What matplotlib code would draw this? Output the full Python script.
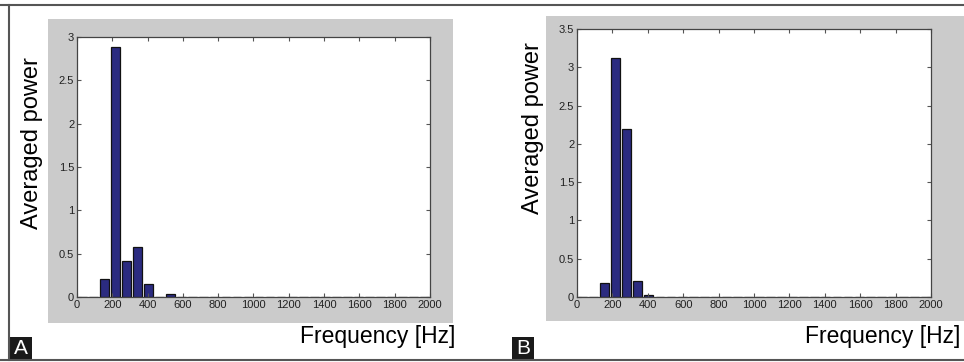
import matplotlib.pyplot as plt
from matplotlib.patches import Rectangle
from matplotlib.lines import Line2D

plt.rcParams['font.family'] = ['Liberation Sans', 'DejaVu Sans']

# frequency bin centres (Hz)
freq_hz = [31.25, 93.75, 156.25, 218.75, 281.25, 343.75, 406.25, 468.75,
           531.25, 593.75, 656.25, 718.75, 781.25, 843.75, 906.25, 968.75,
           1031.25, 1093.75, 1156.25, 1218.75, 1281.25, 1343.75, 1406.25, 1468.75,
           1531.25, 1593.75, 1656.25, 1718.75, 1781.25, 1843.75, 1906.25, 1968.75]

power_a = [0, 0, 0.21, 2.88, 0.42, 0.58, 0.15, 0, 0.03] + [0] * 23
power_b = [0, 0, 0.18, 3.12, 2.19, 0.21, 0.02] + [0] * 25

xticks = [0, 200, 400, 600, 800, 1000, 1200, 1400, 1600, 1800, 2000]
yticks_a = [0, 0.5, 1, 1.5, 2, 2.5, 3]
yticks_b = [0, 0.5, 1, 1.5, 2, 2.5, 3, 3.5]
ytick_labels_a = ['0', '0.5', '1', '1.5', '2', '2.5', '3']
ytick_labels_b = ['0', '0.5', '1', '1.5', '2', '2.5', '3', '3.5']

W, H = 964, 362
fig = plt.figure(figsize=(W / 100, H / 100), dpi=100)


def box(x0, y0, x1, y1):
    # pixel box (top-left origin) -> figure fraction [l, b, w, h]
    return [x0 / W, 1 - y1 / H, (x1 - x0) / W, (y1 - y0) / H]


def panel(gray, ax_px, values, yticks, ylabels, ymax, letter_px, letter, ylab_xy, xlab_x):
    l, b, w, h = box(*gray)
    fig.add_artist(Rectangle((l, b), w, h, transform=fig.transFigure,
                             facecolor='#cbcbcb', edgecolor='none', zorder=0))
    ax = fig.add_axes(box(*ax_px))
    ax.bar(freq_hz, values, width=50, color='#2b2b80', edgecolor='#111111', linewidth=0.9)
    ax.set_xlim(0, 2000)
    ax.set_ylim(0, ymax)
    ax.set_xticks(xticks)
    ax.set_xticklabels([str(t) for t in xticks])
    ax.set_yticks(yticks)
    ax.set_yticklabels(ylabels)
    ax.tick_params(direction='in', length=3, width=0.8, color='#555555',
                   labelsize=8, labelcolor='#222222', top=True, right=True, pad=2)
    for s in ax.spines.values():
        s.set_color('#444444')
        s.set_linewidth(0.9)
    fig.text(ylab_xy[0] / W, 1 - ylab_xy[1] / H, 'Averaged power',
             rotation=90, ha='center', va='center', fontsize=17)
    fig.text(xlab_x / W, 1 - 336 / H, 'Frequency [Hz]', ha='right', va='center', fontsize=16.5)
    lx0, ly0, lx1, ly1 = letter_px
    l, b, w, h = box(*letter_px)
    fig.add_artist(Rectangle((l, b), w, h, transform=fig.transFigure,
                             facecolor='#1a1a1a', edgecolor='none', zorder=1))
    fig.text((lx0 + lx1) / 2 / W, 1 - (ly0 + ly1) / 2 / H, letter, color='white',
             ha='center', va='center', fontsize=15, zorder=2)
    return ax


panel((48, 19, 453, 323), (77, 37, 430, 297), power_a, yticks_a, ytick_labels_a, 3,
      (9, 337, 32, 359), 'A', (32, 143), 455)
panel((546, 16, 964, 321), (577, 29, 931, 297), power_b, yticks_b, ytick_labels_b, 3.5,
      (512, 337, 534, 359), 'B', (533, 128), 960)

# outer frame lines
fig.add_artist(Line2D([0, 1], [1 - 4.5 / H] * 2, transform=fig.transFigure, color='#555555', lw=1.5))
fig.add_artist(Line2D([0, 1], [1 - 359.5 / H] * 2, transform=fig.transFigure, color='#555555', lw=1.5))
fig.add_artist(Line2D([8.5 / W] * 2, [1 - 4.5 / H, 1 - 359.5 / H], transform=fig.transFigure, color='#555555', lw=1.5))

fig.savefig('out.png', dpi=100)
